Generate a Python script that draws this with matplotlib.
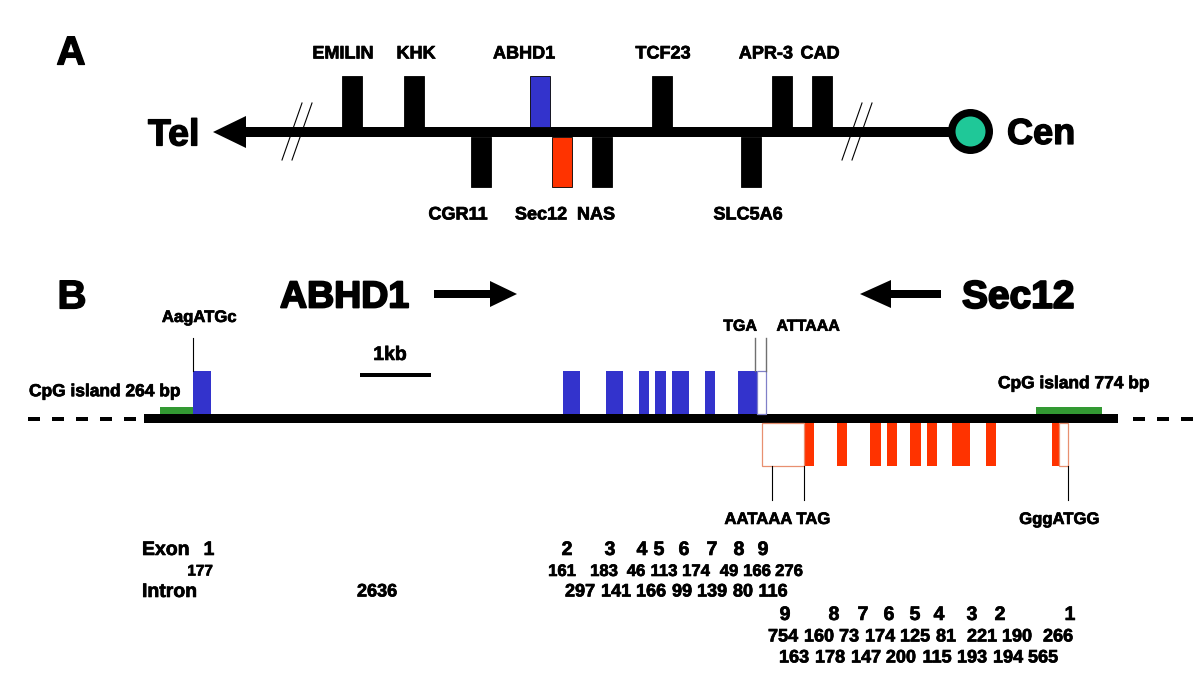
import matplotlib
matplotlib.use("Agg")
import matplotlib.pyplot as plt
import matplotlib.patheffects as pe
from matplotlib.patches import Rectangle, Polygon, Circle

plt.rcParams["font.family"] = ["Liberation Sans", "DejaVu Sans"]
plt.rcParams["lines.scale_dashes"] = False

BLUE = "#3333cc"
RED = "#ff3300"
GREEN = "#339933"
TEAL = "#1fc898"
PX = 100 / 72  # pixels per point at dpi 100

# ---- panel A: gene order on the chromosome (map units) ----
genes_up = ["EMILIN", "KHK", "ABHD1", "TCF23", "APR-3", "CAD"]
genes_up_x = [352, 414, 540, 662, 782, 822]
genes_up_label_x = [343, 416, 524, 663, 766, 820]
genes_down = ["CGR11", "Sec12", "NAS", "SLC5A6"]
genes_down_x = [481, 562, 602, 751]
genes_down_label_x = [458, 541, 596, 748]
gene_colors = {"ABHD1": BLUE, "Sec12": RED}
breaks_a = [297, 857]

# ---- panel B: exon structure (map units, 1 kb = 71) ----
abhd1_exons = [(193, 211), (563, 580), (606, 623), (639, 649), (655, 666),
               (672, 689), (705, 715), (738, 757)]
abhd1_utr = [(757, 766)]
sec12_exons = [(804, 814), (837, 847), (870, 881), (887, 897), (910, 921),
               (927, 937), (952, 970), (986, 996), (1052, 1059)]
sec12_utr = [(762, 804), (1059, 1068)]
cpg_islands = [(160, 193), (1036, 1102)]
cpg_labels = ["CpG island 264 bp", "CpG island 774 bp"]

abhd1_exon_no = ["1", "2", "3", "4", "5", "6", "7", "8", "9"]
abhd1_exon_no_x = [209, 567, 610, 642, 659, 684, 712, 739, 763]
abhd1_exon_bp = [177, 161, 183, 46, 113, 174, 49, 166, 276]
abhd1_exon_bp_x = [200, 562, 604, 636, 664, 696, 729, 757, 789]
abhd1_intron_bp = [2636, 297, 141, 166, 99, 139, 80, 116]
abhd1_intron_bp_x = [377, 580, 616, 651, 682, 712, 743, 773]

sec12_exon_no = ["9", "8", "7", "6", "5", "4", "3", "2", "1"]
sec12_exon_no_x = [785, 834, 863, 889, 915, 939, 972, 1000, 1070]
sec12_exon_bp = [754, 160, 73, 174, 125, 81, 221, 190, 266]
sec12_exon_bp_x = [783, 819, 849, 880, 915, 946, 982, 1017, 1058]
sec12_intron_bp = [163, 178, 147, 200, 115, 193, 194, 565]
sec12_intron_bp_x = [794, 830, 866, 901, 937, 972, 1008, 1043]


fig = plt.figure(figsize=(12, 6.92), dpi=100)
ax = fig.add_axes([0, 0, 1, 1])
ax.set_xlim(0, 1200)
ax.set_ylim(692, 0)
ax.axis("off")


def label(x, y, s, size, ha="center", heavy=0.5):
    # y is the visual centre of the capitals; a thin stroke makes it Arial-heavy
    ax.text(x, y + 0.358 * size * PX, s, fontsize=size, ha=ha, va="baseline",
            fontweight="bold",
            path_effects=[pe.withStroke(linewidth=heavy, foreground="black")])


def box(x0, x1, y0, y1, **kw):
    ax.add_patch(Rectangle((x0, y0), x1 - x0, y1 - y0, **kw))


# ===== panel A =====
label(71, 50, "A", 29, heavy=1)
ya0, ya1 = 127, 137
box(240, 970, ya0, ya1, color="black", lw=0)
ax.add_patch(Polygon([(213, 132), (246, 116), (246, 148)], color="black", lw=0))
label(148, 132, "Tel", 27, ha="left", heavy=1)
for bx in breaks_a:
    for dx in (-5, 5):
        ax.plot([bx + dx - 10, bx + dx + 10], [160, 103], color="black", lw=0.8)
ax.add_patch(Circle((970.5, 131.5), 22.5, color="black", lw=0))
ax.add_patch(Circle((970.5, 131.5), 15, color=TEAL, lw=0))
label(1007, 131, "Cen", 26, ha="left", heavy=1)

for g, x, lx in zip(genes_up, genes_up_x, genes_up_label_x):
    c = gene_colors.get(g, "black")
    box(x - 10, x + 10, 76, ya0, facecolor=c, edgecolor="black", lw=0.6)
    label(lx, 52, g, 13)
for g, x, lx in zip(genes_down, genes_down_x, genes_down_label_x):
    c = gene_colors.get(g, "black")
    box(x - 10, x + 10, ya1, 187, facecolor=c, edgecolor="black", lw=0.6)
    label(lx, 213, g, 13)

# ===== panel B =====
label(72, 294, "B", 29, heavy=1)
label(280, 294, "ABHD1", 27, ha="left", heavy=1.4)
ax.add_patch(Polygon([(434, 290), (490, 290), (490, 281), (517, 294), (490, 307),
                      (490, 298), (434, 298)], color="black", lw=0))
ax.add_patch(Polygon([(941, 290), (891, 290), (891, 280), (860, 294), (891, 308),
                      (891, 298), (941, 298)], color="black", lw=0))
label(962, 294, "Sec12", 28, ha="left", heavy=1.4)

yb0, yb1 = 414, 423
box(144, 1118, yb0, yb1, color="black", lw=0)
for xs in ([28, 138], [1133, 1200]):
    ax.plot(xs, [418.5, 418.5], color="black", lw=4 / PX,
            ls=(0, (12 / PX, 12 / PX)), dash_capstyle="butt")

for (x0, x1) in cpg_islands:
    box(x0, x1, 407, yb0, color=GREEN, lw=0)
label(29, 390, cpg_labels[0], 12.5, ha="left")
label(998, 382, cpg_labels[1], 12.5, ha="left")

for (x0, x1) in abhd1_exons:
    box(x0, x1, 371, yb0, color=BLUE, lw=0)
for (x0, x1) in abhd1_utr:
    box(x0, x1, 371, yb0, facecolor="white", edgecolor="#8080c8", lw=0.9)
for (x0, x1) in sec12_exons:
    box(x0, x1, yb1, 466, color=RED, lw=0)
for (x0, x1) in sec12_utr:
    box(x0, x1, yb1, 466, facecolor="white", edgecolor="#e89070", lw=0.9)

# start / stop / polyA pointers
ax.plot([193, 193], [338, 371], color="black", lw=0.8)
label(199, 316, "AagATGc", 12)
ax.plot([755, 755], [338, 371], color="#707070", lw=1)
ax.plot([766, 766], [338, 371], color="#707070", lw=1)
label(740, 325, "TGA", 11.5)
label(808, 325, "ATTAAA", 11.5)
for x in (772, 804, 1068):
    ax.plot([x, x], [466, 500], color="black", lw=0.8)
label(777, 518, "AATAAA TAG", 12)
label(1059, 518, "GggATGG", 12)

# scale bar
box(360, 431, 373, 377, color="black", lw=0)
label(390, 353, "1kb", 14)

# ===== size table =====
label(142, 548, "Exon", 14, ha="left")
label(142, 590, "Intron", 14, ha="left")
for s, x in zip(abhd1_exon_no, abhd1_exon_no_x):
    label(x, 548, s, 14)
for v, x in zip(abhd1_exon_bp, abhd1_exon_bp_x):
    label(x, 570, str(v), 12 if v != 177 else 11)
for v, x in zip(abhd1_intron_bp, abhd1_intron_bp_x):
    label(x, 590, str(v), 13)
for s, x in zip(sec12_exon_no, sec12_exon_no_x):
    label(x, 613, s, 14)
for v, x in zip(sec12_exon_bp, sec12_exon_bp_x):
    label(x, 635, str(v), 13)
for v, x in zip(sec12_intron_bp, sec12_intron_bp_x):
    label(x, 656, str(v), 13)

fig.savefig("out.png", dpi=100)
